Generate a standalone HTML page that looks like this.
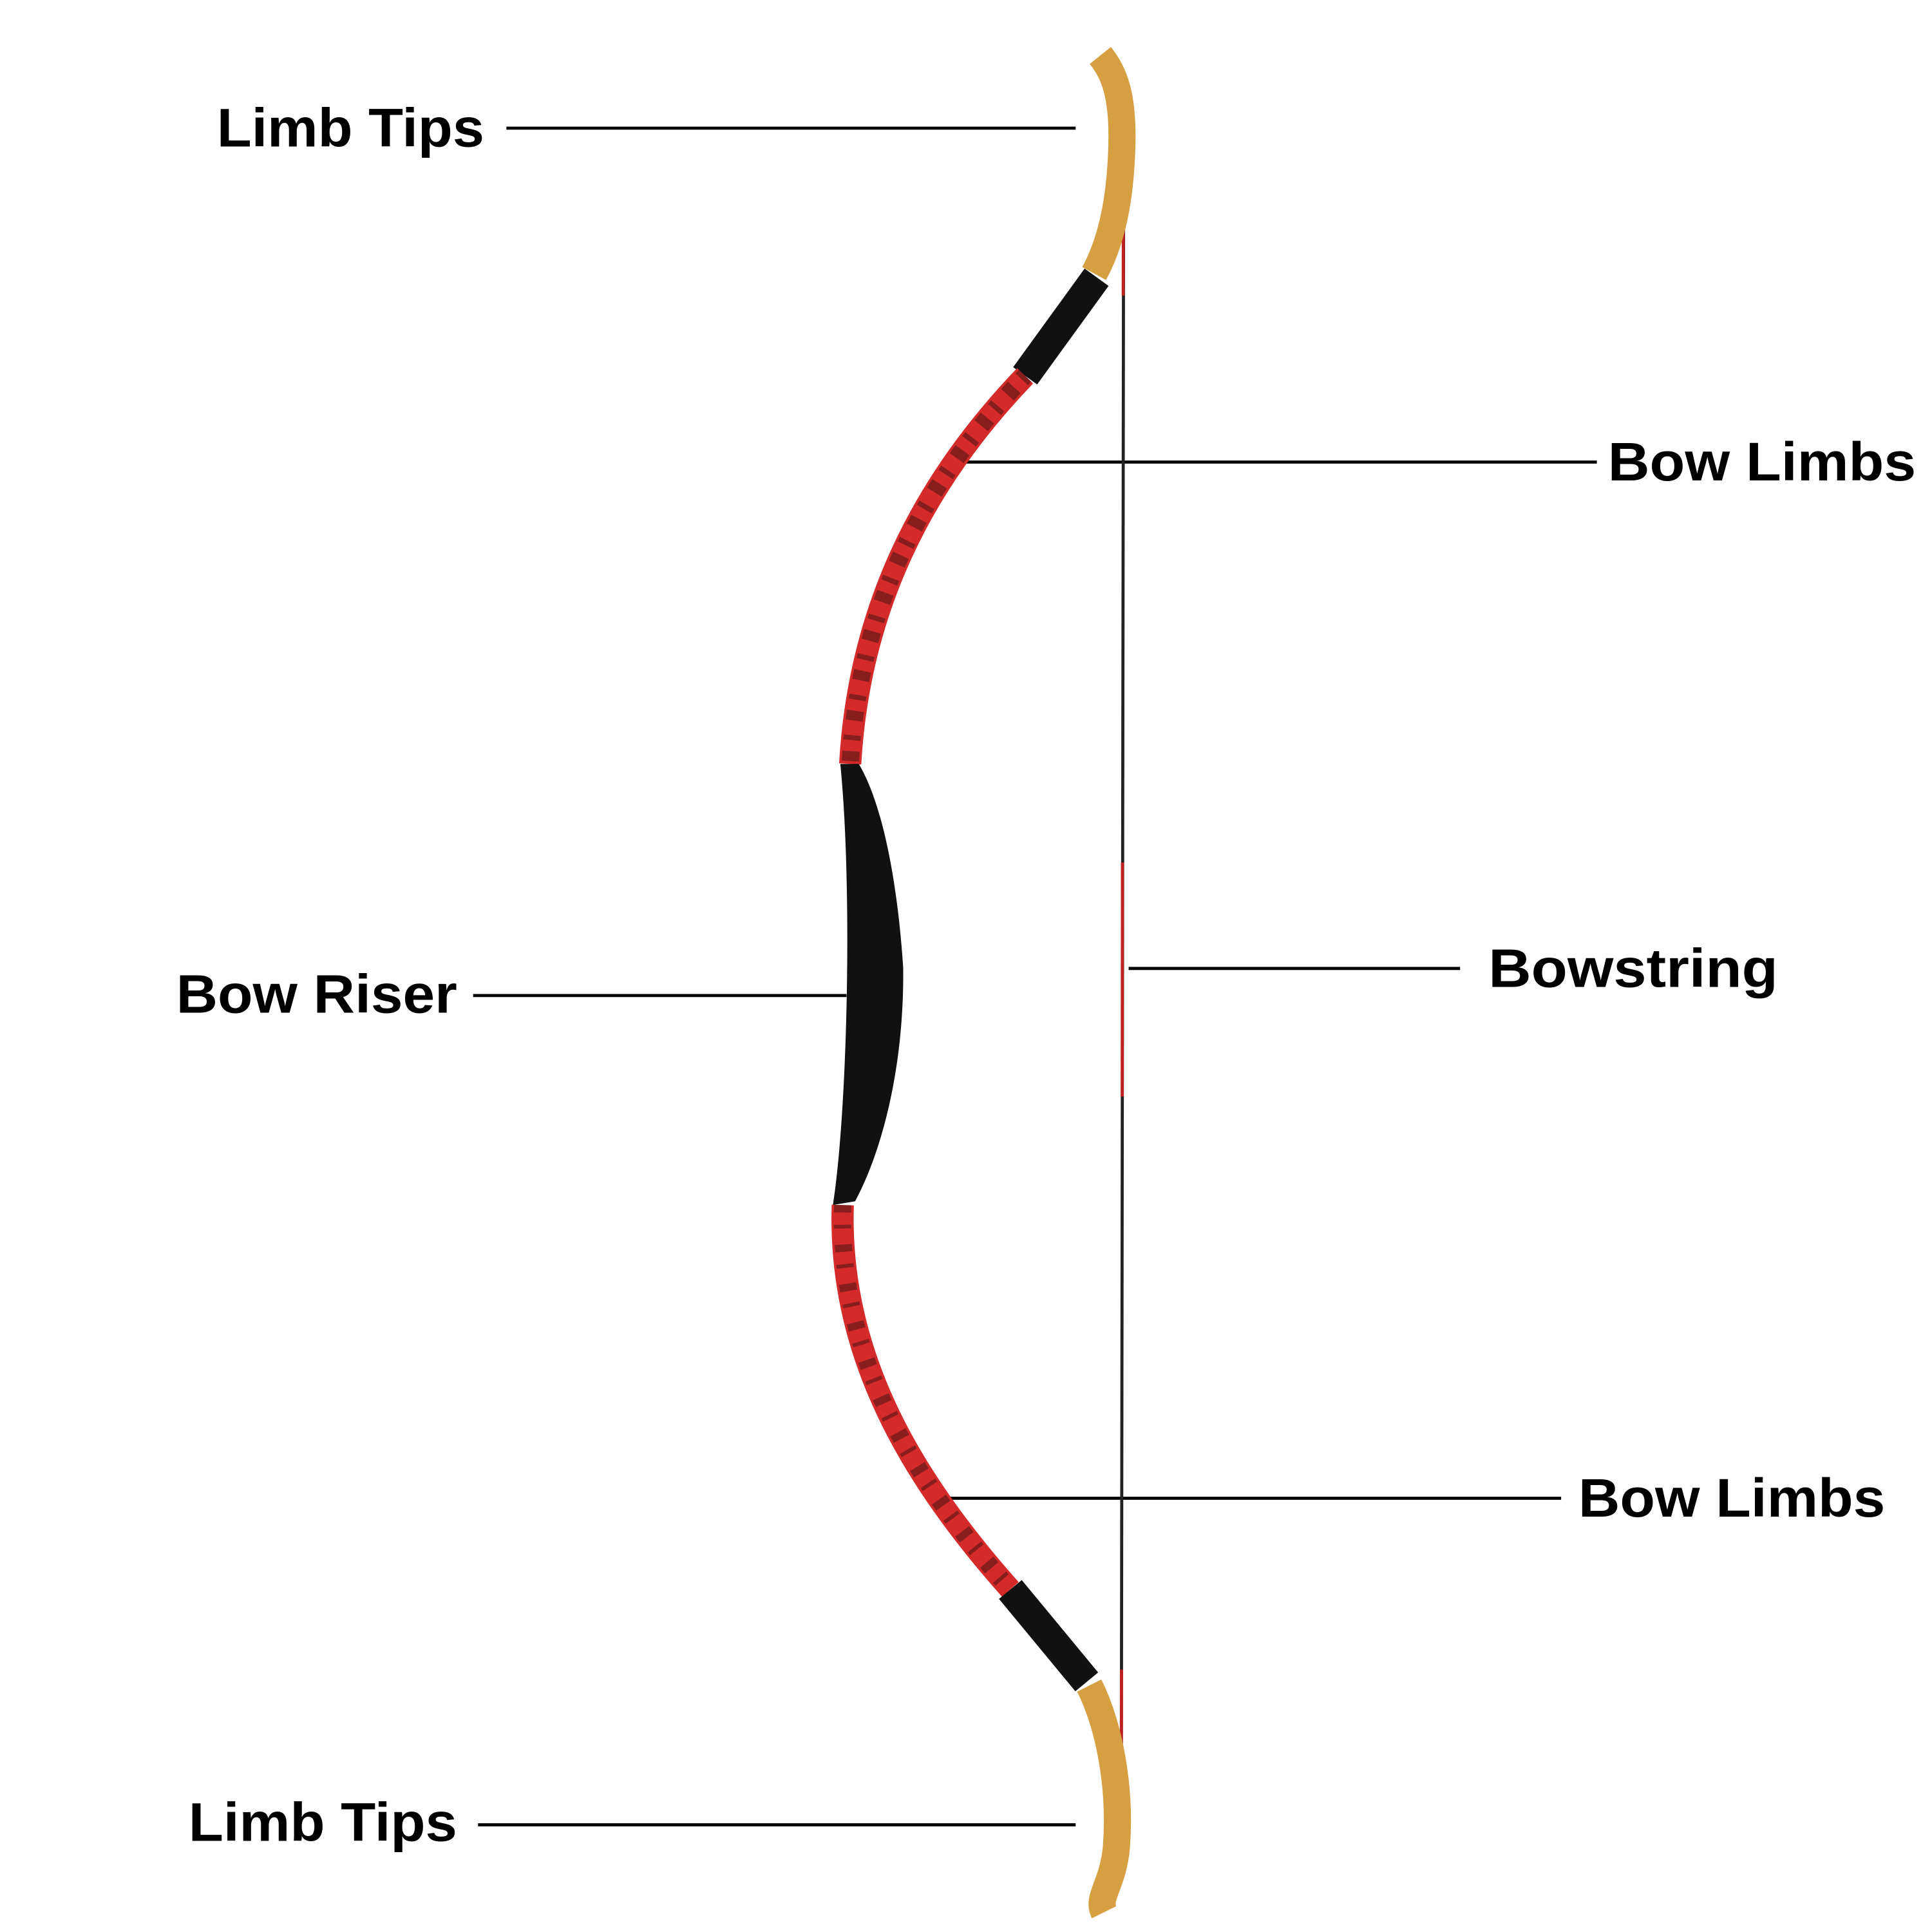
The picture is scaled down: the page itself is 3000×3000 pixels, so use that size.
<!DOCTYPE html>
<html><head><style>html,body{margin:0;padding:0;background:#fff}svg{display:block}</style></head>
<body>
<svg width="3000" height="3000" viewBox="0 0 1568 1568" xmlns="http://www.w3.org/2000/svg">
<rect width="1568" height="1568" fill="#fff"/>
<g font-family="Liberation Sans, sans-serif" font-weight="bold" font-size="44" fill="#000">
<text x="176" y="119" textLength="217" lengthAdjust="spacingAndGlyphs">Limb Tips</text>
<text x="1305" y="390" textLength="250" lengthAdjust="spacingAndGlyphs">Bow Limbs</text>
<text x="1208" y="801" textLength="235" lengthAdjust="spacingAndGlyphs">Bowstring</text>
<text x="143" y="822" textLength="228" lengthAdjust="spacingAndGlyphs">Bow Riser</text>
<text x="1281" y="1231" textLength="249" lengthAdjust="spacingAndGlyphs">Bow Limbs</text>
<text x="153" y="1494" textLength="218" lengthAdjust="spacingAndGlyphs">Limb Tips</text>
</g>
<g stroke="#000" stroke-width="2.5">
<line x1="411" y1="104" x2="873" y2="104"/>
<line x1="783" y1="375" x2="1296" y2="375"/>
<line x1="916" y1="786" x2="1185" y2="786"/>
<line x1="384" y1="808" x2="687" y2="808"/>
<line x1="770" y1="1216" x2="1267" y2="1216"/>
<line x1="388" y1="1481" x2="873" y2="1481"/>
</g>
<line x1="912" y1="100" x2="910" y2="1495" stroke="#222" stroke-width="2.5"/>
<line x1="911.8" y1="100" x2="911.6" y2="240" stroke="#c02020" stroke-width="2.5"/>
<line x1="911" y1="700" x2="910.8" y2="890" stroke="#c02020" stroke-width="2.5"/>
<line x1="910.2" y1="1355" x2="910" y2="1495" stroke="#c02020" stroke-width="2.5"/>
<g fill="none" stroke-linecap="butt">
<path d="M893,45 C905,60 913,80 910,130 C908,170 900,200 888,222" stroke="#d6a042" stroke-width="22"/>
<path d="M890,225 L832,305" stroke="#111" stroke-width="24"/>
<path d="M832,305 C760,380 698,480 690,620" stroke="#d42a2a" stroke-width="18"/>
<path d="M832,305 C760,380 698,480 690,620" stroke="#3a1010" stroke-width="14" stroke-dasharray="4 9 8 12" opacity="0.5"/>
<path d="M684,978 C680,1100 740,1200 820,1290" stroke="#d42a2a" stroke-width="18"/>
<path d="M684,978 C680,1100 740,1200 820,1290" stroke="#3a1010" stroke-width="14" stroke-dasharray="6 10 3 13" opacity="0.5"/>
<path d="M820,1290 L882,1365" stroke="#111" stroke-width="24"/>
<path d="M884,1368 C900,1400 910,1450 906,1500 C903,1530 890,1540 896,1552" stroke="#d6a042" stroke-width="22"/>
</g>
<path d="M682,620 L697,620 C715,650 728,710 733,785 C734,860 718,930 694,975 L676,978 C688,900 692,720 682,620 Z" fill="#111"/>
</svg>
</body></html>
